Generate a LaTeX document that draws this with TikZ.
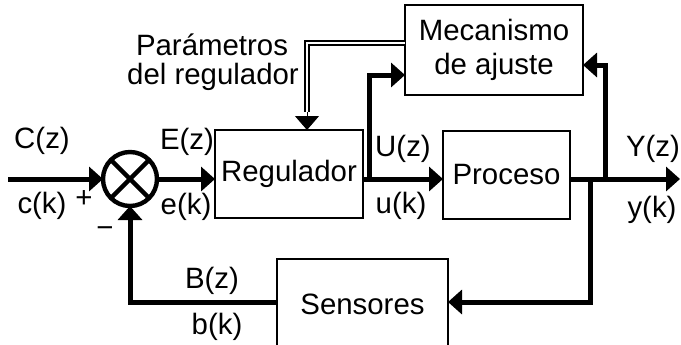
\documentclass[tikz,border=0pt]{standalone}
\usepackage{fontspec}
\setmainfont{Liberation Sans}
\usetikzlibrary{arrows.meta}
\begin{document}
\begin{tikzpicture}[x=0.5pt,y=-0.5pt,
  font=\fontsize{14.7}{17}\selectfont,
  blk/.style={draw, line width=1pt, inner sep=0pt, outer sep=0pt},
  sig/.style={line width=2.5pt, -{Triangle[length=7pt,width=12pt]}},
  lbl/.style={inner sep=0pt}]
\useasboundingbox (0,0) rectangle (681,344);
\clip (0,0) rectangle (681,344);

% blocks
\node[blk, minimum width=74pt, minimum height=44pt] (reg) at (289,174) {Regulador};
\node[blk, minimum width=63.5pt, minimum height=44pt] (proc) at (506.5,175) {Proceso};
\node[blk, minimum width=89pt, minimum height=45pt, align=center] (mec) at (494,50) {Mecanismo\\de ajuste};
\node[blk, minimum width=85.5pt, minimum height=45pt] (sens) at (362.5,304) {Sensores};

% summing junction
\node[circle, draw, line width=2.2pt, minimum size=27pt, inner sep=0pt, outer sep=0pt] (sum) at (130,179) {};
\draw[line width=2.2pt] (sum.45) -- (sum.225) (sum.135) -- (sum.315);

% branch points and free ends
\coordinate (in) at (8,179);
\coordinate (out) at (680,179);
\coordinate (ju) at (369,179);
\coordinate (jy) at (605,179);
\coordinate (jd) at (590,179);
\coordinate (mu) at (405,75);
\coordinate (my) at (583,65);
\coordinate (sy) at (448,302);
\coordinate (pa) at (405,43);
\coordinate (pb) at (307,112);

% forward path
\draw[sig] (in) -- (sum.west);
\draw[sig] (sum.east) -- (reg.west |- sum);
\draw[sig] (reg.east |- sum) -- (proc.west |- sum);
\draw[sig] (proc.east |- sum) -- (out);

% adaptation loop
\draw[sig] (ju) |- (mu);
\draw[sig] (jy) |- (my);
\draw[double, line width=0.9pt, double distance=1.1pt] (pa) -| (pb);
\draw[-{Triangle[length=7pt,width=12pt]}, line width=0.5pt] (pb) -- (reg.north -| pb);

% feedback
\draw[sig] (jd) |- (sy);
\draw[sig] (sens.west |- sy) -| (sum.south);

% signal labels
\node[lbl] at (42,141) {C(z)};
\node[lbl] at (42,206) {c(k)};
\node[lbl] at (84,199) {+};
\node[lbl] at (105,232) {−};
\node[lbl] at (187,142) {E(z)};
\node[lbl] at (186,207) {e(k)};
\node[lbl] at (403,149) {U(z)};
\node[lbl] at (401,206) {u(k)};
\node[lbl] at (653,149) {Y(z)};
\node[lbl] at (652,210) {y(k)};
\node[lbl] at (212,281) {B(z)};
\node[lbl] at (217,327) {b(k)};
\node[lbl] at (212,45) {Parámetros};
\node[lbl] at (213,77) {del regulador};
\end{tikzpicture}
\end{document}
